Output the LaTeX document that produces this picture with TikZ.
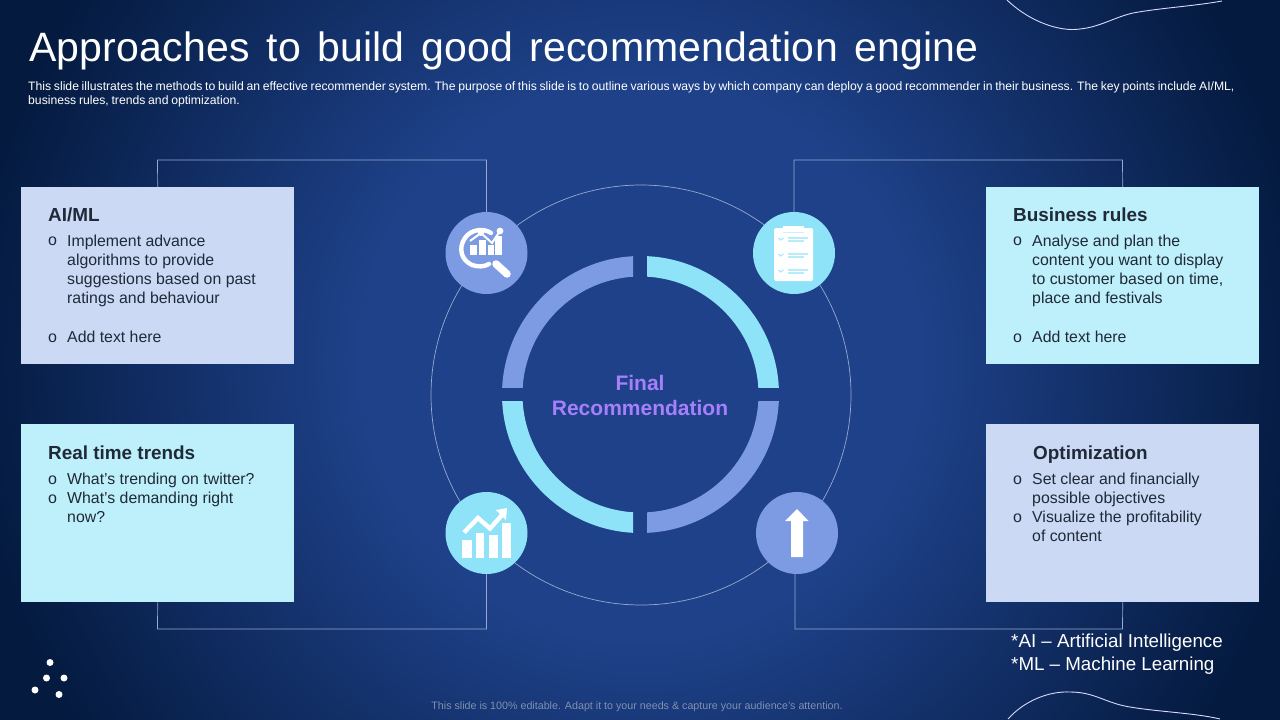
\documentclass[tikz,border=0pt]{standalone}
\usepackage{fontspec}
\setmainfont{Liberation Sans}
\newfontfamily\titlef[WordSpace=1.4,LetterSpace=0.6]{Liberation Sans}
\newfontfamily\subf[WordSpace=0.8]{Liberation Sans}
\definecolor{bgin}{HTML}{1E4189}
\definecolor{bgout}{HTML}{041A3F}
\definecolor{peri}{HTML}{7D9BE2}
\definecolor{cyanb}{HTML}{8FE3F8}
\definecolor{boxperi}{HTML}{CCD9F5}
\definecolor{boxcyan}{HTML}{BEF0FB}
\definecolor{ink}{HTML}{1F2937}
\definecolor{wire}{HTML}{98A9CF}
\definecolor{purp}{HTML}{A680FA}
\pgfdeclareradialshading{bgshade}{\pgfpointorigin}{color(0bp)=(bgin);color(10bp)=(bgin);color(24bp)=(bgout);color(25bp)=(bgout);color(50bp)=(bgout)}
\tikzset{
 card/.style={draw=none,inner sep=0pt,minimum width=273pt,anchor=north west},
 wirel/.style={draw=wire,line width=0.7pt},
 badge/.style={circle,inner sep=0pt,minimum size=82pt},
 headt/.style={anchor=base west,inner sep=0pt,font=\fontsize{18.9}{22}\selectfont\bfseries,text=ink},
 bodyt/.style={anchor=north west,inner sep=0pt,align=left,font=\fontsize{15.85}{19}\selectfont,text=ink},
 bult/.style={anchor=base west,inner sep=0pt,font=\fontsize{16}{19}\selectfont,text=ink},
 icon/.style={fill=white,draw=none},
 dotm/.style={circle,fill=white,inner sep=0pt,minimum size=7pt},
}
\begin{document}
\begin{tikzpicture}[x=1pt,y=-1pt]
\useasboundingbox (0,0) rectangle (1280,720);
\fill[bgout] (0,0) rectangle (1280,720);
\begin{scope}
\clip (0,0) rectangle (1280,720);
\shade[shading=bgshade] (-60,-340) rectangle (1340,1060);
\end{scope}
% corner curves
\draw[white!85!blue,line width=0.9pt] (1007,0) .. controls (1030,22) and (1060,32) .. (1080,29) .. controls (1100,27) and (1115,17) .. (1133,13) .. controls (1160,8) and (1195,6) .. (1222,1);
\draw[white!85!blue,line width=0.9pt] (1008,719) .. controls (1025,700) and (1050,691) .. (1070,692) .. controls (1095,692) and (1105,703) .. (1130,707) .. controls (1160,712) and (1195,713) .. (1220,719);
% dots
\node[dotm] (d1) at (50,662.5) {};
\node[dotm] (d2) at (46.5,678) {};
\node[dotm] (d3) at (64,678) {};
\node[dotm] (d4) at (35,690) {};
\node[dotm] (d5) at (59,694.5) {};
% title
\node[anchor=base west,inner sep=0pt,text=white,font=\fontsize{41}{44}\selectfont\titlef] (title) at (29,61) {Approaches to build good recommendation engine};
\node[anchor=north west,inner sep=0pt,align=left,text=white,font=\fontsize{12.2}{14}\selectfont\subf] (sub) at (28,81) {This slide illustrates the methods to build an effective recommender system. The purpose of this slide is to outline various ways by which company can deploy a good recommender in their business. The key points include AI/ML,\\ business rules, trends and optimization.};
% big thin circle
\draw[wirel] (641,395) circle (210);
% cards
\node[card,fill=boxperi,minimum height=177pt] (c1) at (21,187) {};
\node[card,fill=boxcyan,minimum height=177pt] (c2) at (986,187) {};
\node[card,fill=boxcyan,minimum height=178pt] (c3) at (21,424) {};
\node[card,fill=boxperi,minimum height=178pt] (c4) at (986,424) {};
% badges
\node[badge,fill=peri] (b1) at (486.5,253) {};
\node[badge,fill=cyanb] (b2) at (794,253) {};
\node[badge,fill=cyanb] (b3) at (486.5,533) {};
\node[badge,fill=peri] (b4) at (797,533) {};
% connectors
\draw[wirel] (c1.north) -- (157.5,160) -| (b1.north);
\draw[wirel] (c2.north) -- (1122.5,160) -| (b2.north);
\draw[wirel] (c3.south) -- (157.5,629) -| (b3.south);
\draw[wirel] (c4.south) -- (1122.5,629) -| (795,574);
% ring
\begin{scope}
\clip (502,256) rectangle (633,387);
\fill[peri,even odd rule] (640.5,394.5) circle (138.5) circle (118);
\end{scope}
\begin{scope}
\clip (647,256) rectangle (779,387);
\fill[cyanb,even odd rule] (640.5,394.5) circle (138.5) circle (118);
\end{scope}
\begin{scope}
\clip (502,401) rectangle (633,533);
\fill[cyanb,even odd rule] (640.5,394.5) circle (138.5) circle (118);
\end{scope}
\begin{scope}
\clip (647,401) rectangle (779,533);
\fill[peri,even odd rule] (640.5,394.5) circle (138.5) circle (118);
\end{scope}
\node[inner sep=0pt,align=center,text=purp,font=\fontsize{21}{25}\selectfont\bfseries] (final) at (640,395) {Final\\Recommendation};
% icon 1 magnifier
\draw[white,line width=4.4pt,line cap=round] (491,233) .. controls (484,228) and (471,229) .. (465,238) .. controls (458,248) and (461,260) .. (472,265) .. controls (478,267) and (484,267) .. (489,264);
\draw[white,line width=7.5pt,line cap=round] (496,264) -- (507,274);
\fill[icon] (470,245) rectangle (477,255);
\fill[icon] (478.5,240) rectangle (485.5,255);
\fill[icon] (487.5,245) rectangle (493.5,255);
\fill[icon] (495,236) rectangle (502,255);
\draw[white,line width=2pt] (470,241) -- (481,233) -- (492,243) -- (500,231);
\fill[white] (481,233) circle (3) (500,231) circle (3.4);
% icon 2 clipboard
\fill[icon,rounded corners=1.5pt] (774,228) rectangle (813,281);
\fill[icon] (783,226) rectangle (804,232);
\draw[cyanb!50!white,line width=0.6pt] (783,232.5) -- (804,232.5);
\foreach \yy in {238,254,270}{
 \draw[cyanb!75!white,line width=1.2pt] (778.5,\yy) -- (780.5,\yy+2) -- (783.5,\yy);
 \draw[cyanb!65!white,line width=1.2pt] (788,\yy) -- (808,\yy);
 \draw[cyanb!65!white,line width=1.2pt] (788,\yy+3) -- (804,\yy+3);
}
% icon 3 chart
\fill[icon] (462,540) rectangle (472,558);
\fill[icon] (476,533) rectangle (484,558);
\fill[icon] (489,535) rectangle (498,558);
\fill[icon] (502,523) rectangle (511,558);
\draw[white,line width=4.4pt] (464,532.5) -- (478,518) -- (490,528.5) -- (502,515);
\fill[icon] (496,510) -- (507,508) -- (506,520) -- cycle;
% icon 4 arrow
\fill[icon] (791,557) -- (803,557) -- (803,521) -- (808.5,521) -- (797,509) -- (785,521) -- (791,521) -- cycle;
% card 1
\node[headt] (t1) at (48,221.5) {AI/ML};
\node[bult] (o1a) at (48,245.5) {o};
\node[bodyt] (x1a) at (67,234.5) {Implement advance\\algorithms to provide\\suggestions based on past\\ratings and behaviour};
\node[bult] (o1b) at (48,342.5) {o};
\node[bodyt] (x1b) at (67,330.5) {Add text here};
% card 2
\node[headt] (t2) at (1013,221.5) {Business rules};
\node[bult] (o2a) at (1013,245.5) {o};
\node[bodyt] (x2a) at (1032,234.5) {Analyse and plan the\\content you want to display\\to customer based on time,\\place and festivals};
\node[bult] (o2b) at (1013,342.5) {o};
\node[bodyt] (x2b) at (1032,330.5) {Add text here};
% card 3
\node[headt] (t3) at (48,459) {Real time trends};
\node[bult] (o3a) at (48,484) {o};
\node[bodyt] (x3a) at (67,472.5) {What’s trending on twitter?};
\node[bult] (o3b) at (48,503) {o};
\node[bodyt] (x3b) at (67,491.5) {What’s demanding right\\now?};
% card 4
\node[headt] (t4) at (1033,459) {Optimization};
\node[bult] (o4a) at (1013,484) {o};
\node[bodyt] (x4a) at (1032,472.5) {Set clear and financially\\possible objectives};
\node[bult] (o4b) at (1013,522) {o};
\node[bodyt] (x4b) at (1032,510.5) {Visualize the profitability\\of content};
% notes
\node[anchor=north west,inner sep=0pt,align=left,text=white,font=\fontsize{18.75}{23}\selectfont] (note) at (1011,633.5) {*AI – Artificial Intelligence\\*ML – Machine Learning};
\node[anchor=base,inner sep=0pt,text=wire!85!black,font=\fontsize{10.7}{12}\selectfont] (foot) at (637,709) {This slide is 100\% editable. Adapt it to your needs \& capture your audience’s attention.};
\end{tikzpicture}
\end{document}
